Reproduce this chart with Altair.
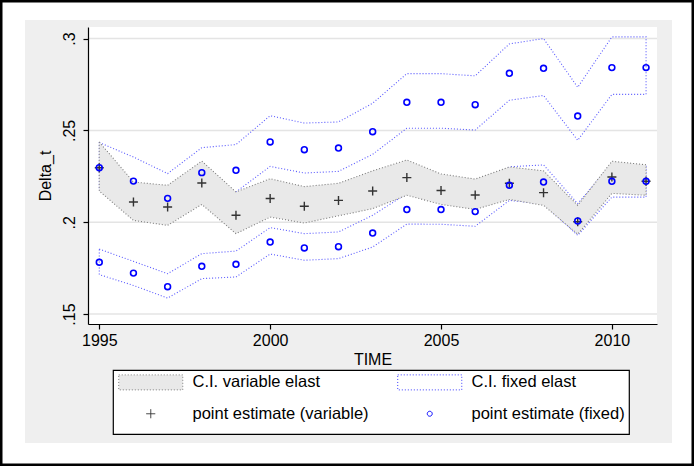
import altair as alt
import pandas as pd

# ---------------- data ----------------
years = list(range(1995, 2012))

# variable elasticity: point estimate and confidence interval (grey band)
var_est = [0.2297, 0.2110, 0.2083, 0.2214, 0.2038, 0.2129, 0.2087, 0.2119, 0.2170,
           0.2243, 0.2173, 0.2148, 0.2212, 0.2161, 0.2003, 0.2246, 0.2223]
var_hi = [0.2437, 0.2219, 0.2201, 0.2333, 0.2165, 0.2237, 0.2194, 0.2212, 0.2280,
          0.2339, 0.2263, 0.2235, 0.2301, 0.2280, 0.2092, 0.2332, 0.2313]
var_lo = [0.2170, 0.2010, 0.1983, 0.2097, 0.1938, 0.2028, 0.1996, 0.2035, 0.2074,
          0.2147, 0.2097, 0.2070, 0.2124, 0.2092, 0.1935, 0.2157, 0.2147]

# fixed elasticity, upper series
fix1_est = [0.2297, 0.2224, 0.2130, 0.2270, 0.2283, 0.2437, 0.2395, 0.2404, 0.2493,
            0.2653, 0.2653, 0.2640, 0.2811, 0.2838, 0.2578, 0.2842, 0.2842]
fix1_hi = [0.2434, 0.2355, 0.2265, 0.2406, 0.2423, 0.2580, 0.2540, 0.2546, 0.2648,
           0.2809, 0.2809, 0.2797, 0.2971, 0.3000, 0.2735, 0.3009, 0.3009]
fix1_lo = [0.2175, 0.2090, 0.1995, 0.2135, 0.2165, 0.2304, 0.2268, 0.2277, 0.2370,
           0.2512, 0.2512, 0.2502, 0.2664, 0.2690, 0.2446, 0.2696, 0.2696]

# fixed elasticity, lower series
fix2_est = [0.1782, 0.1723, 0.1649, 0.1760, 0.1771, 0.1892, 0.1860, 0.1867, 0.1941,
            0.2069, 0.2069, 0.2058, 0.2201, 0.2219, 0.2007, 0.2223, 0.2223]
fix2_hi = [0.1854, 0.1787, 0.1720, 0.1829, 0.1843, 0.1971, 0.1938, 0.1947, 0.2038,
           0.2156, 0.2156, 0.2146, 0.2302, 0.2312, 0.2101, 0.2320, 0.2305]
fix2_lo = [0.1715, 0.1656, 0.1587, 0.1693, 0.1702, 0.1827, 0.1793, 0.1802, 0.1865,
           0.1990, 0.1989, 0.1978, 0.2119, 0.2100, 0.1929, 0.2137, 0.2137]

# legend entries in column-major order (col 1: variable, col 2: fixed)
legend_labels = ["C.I. variable elast", "point estimate (variable)",
                 "C.I. fixed elast", "point estimate (fixed)"]
x_ticks = [1995, 2000, 2005, 2010]
y_ticks = [0.15, 0.2, 0.25, 0.3]
x_title = "TIME"
y_title = "Delta_t"

# ---------------- tables built from the arrays ----------------
FONT = "Liberation Sans"
W, H = 569, 297

points = pd.DataFrame({"year": years, "var_est": var_est, "var_hi": var_hi, "var_lo": var_lo,
                       "fix1_est": fix1_est, "fix2_est": fix2_est})


def outline(name, hi, lo):
    n = len(years)
    rows = [{"band": name, "year": yr, "v": v, "o": i} for i, (yr, v) in enumerate(zip(years, hi))]
    rows += [{"band": name, "year": yr, "v": v, "o": n + j}
             for j, (yr, v) in enumerate(zip(years[::-1], lo[::-1]))]
    rows.append({"band": name, "year": years[0], "v": hi[0], "o": 2 * n})
    return rows


blue_outline = pd.DataFrame(outline("fix1", fix1_hi, fix1_lo) + outline("fix2", fix2_hi, fix2_lo))
grey_outline = pd.DataFrame(outline("var", var_hi, var_lo))
legend_df = pd.DataFrame({"lab": legend_labels, "year": [None] * 4, "v": [None] * 4})
grid_df = pd.DataFrame({"g": y_ticks})

xscale = alt.Scale(domain=[1994.67, 2011.32], nice=False, zero=False)
yscale = alt.Scale(domain=[0.1446, 0.3063], nice=False, zero=False)
xaxis = alt.Axis(values=x_ticks, format="d", grid=False, title=x_title, zindex=2)
yaxis = alt.Axis(values=y_ticks, grid=False, title=y_title, labelAngle=270,
                 labelAlign="center", labelBaseline="bottom", zindex=2,
                 labelExpr="replace(toString(datum.value), '0.', '.')")


def X(f="year"):
    return alt.X(f"{f}:Q", scale=xscale, axis=xaxis, title=x_title)


def Y(f):
    return alt.Y(f"{f}:Q", scale=yscale, axis=yaxis, title=y_title)


one = pd.DataFrame({"k": [0]})

# decorative: grey graph region and black outer frame
region = alt.Chart(one).mark_rect(fill="#efefef", strokeWidth=0).encode(
    x=alt.value(-63), x2=alt.value(584), y=alt.value(-7), y2=alt.value(416))
frame = alt.Chart(one).mark_rect(fillOpacity=0, stroke="black", strokeWidth=2.5).encode(
    x=alt.value(-86.75), x2=alt.value(604.75), y=alt.value(-25.75), y2=alt.value(437.75))
plotbg = alt.Chart(one).mark_rect(fill="white", strokeWidth=0).encode(
    x=alt.value(0), x2=alt.value(W), y=alt.value(0), y2=alt.value(H))

grid = alt.Chart(grid_df).mark_rule(stroke="#e4e4e4", strokeWidth=1.5).encode(
    y=Y("g"), x=alt.value(0), x2=alt.value(W))

blue_lines = alt.Chart(blue_outline).mark_line(
    stroke="#3c3cff", strokeWidth=1.1, strokeDash=[1, 2], opacity=0.85).encode(
    x=X(), y=Y("v"), detail="band:N", order="o:Q")

grey_fill = alt.Chart(points).mark_area(fill="#e9e9e9", opacity=1).encode(
    x=X(), y=Y("var_lo"), y2="var_hi:Q")

grey_lines = alt.Chart(grey_outline).mark_line(
    stroke="#7d7d7d", strokeWidth=1.1, strokeDash=[1, 2]).encode(
    x=X(), y=Y("v"), detail="band:N", order="o:Q")

PLUS = "M-1,0L1,0M0,-1L0,1"
plus = alt.Chart(points).mark_point(shape=PLUS, size=81, stroke="#333333", strokeWidth=1.4,
                                    filled=False, opacity=1).encode(x=X(), y=Y("var_est"))

circ1 = alt.Chart(points).mark_point(shape="circle", size=34, stroke="#0000ff", strokeWidth=1.6,
                                     filled=False, opacity=1).encode(x=X(), y=Y("fix1_est"))
circ2 = alt.Chart(points).mark_point(shape="circle", size=34, stroke="#0000ff", strokeWidth=1.6,
                                     filled=False, opacity=1).encode(x=X(), y=Y("fix2_est"))

RECT = "M-4.27,-1L4.27,-1L4.27,1L-4.27,1Z"
SPLUS = "M-0.6,0L0.6,0M0,-0.6L0,0.6"
SCIRC = "M0.33,0A0.33,0.33,0,1,1,-0.33,0A0.33,0.33,0,1,1,0.33,0Z"

leg = alt.Legend(orient="none", legendX=25, legendY=343, columns=2, title=" ",
                 titleOrient="bottom", titleFontSize=8, titlePadding=0)
dom = legend_labels
legend_layer = alt.Chart(legend_df).mark_point(opacity=1, strokeWidth=1).encode(
    x=X(), y=Y("v"),
    fill=alt.Fill("lab:N", scale=alt.Scale(domain=dom, range=["#e9e9e9", "transparent", "white", "transparent"]),
                  legend=leg),
    stroke=alt.Stroke("lab:N", scale=alt.Scale(domain=dom, range=["#7d7d7d", "#333333", "#3c3cff", "#0000ff"]),
                      legend=leg),
    shape=alt.Shape("lab:N", scale=alt.Scale(domain=dom, range=[RECT, SPLUS, RECT, SCIRC]),
                    legend=leg),
    strokeDash=alt.StrokeDash("lab:N", scale=alt.Scale(domain=dom, range=[[1, 2], [1, 0], [1, 2], [1, 0]]),
                              legend=leg),
)

chart = alt.layer(
    region, frame, plotbg, grid, blue_lines, grey_fill, grey_lines, plus, circ1, circ2, legend_layer
).properties(
    width=W, height=H, padding=0, background="white"
).configure_view(
    strokeWidth=0
).configure_axis(
    domainColor="black", tickColor="black", labelColor="black", titleColor="black",
    labelFont=FONT, titleFont=FONT, labelFontSize=16, titleFontSize=16,
    titleFontWeight="normal", tickSize=5, domainWidth=1.2, tickWidth=1.2
).configure_axisX(
    labelPadding=3, titlePadding=3
).configure_axisY(
    labelPadding=6, titlePadding=8
).configure_legend(
    strokeColor="black", fillColor="white", padding=4, columnPadding=26, rowPadding=13.5,
    symbolSize=225, symbolOffset=25.5, labelOffset=33.5, labelFont=FONT, labelFontSize=16.5,
    labelColor="black", symbolStrokeWidth=1, labelLimit=400, strokeWidth=1.2
)

chart.save("out.html", embed_options={"renderer": "svg", "actions": False})
